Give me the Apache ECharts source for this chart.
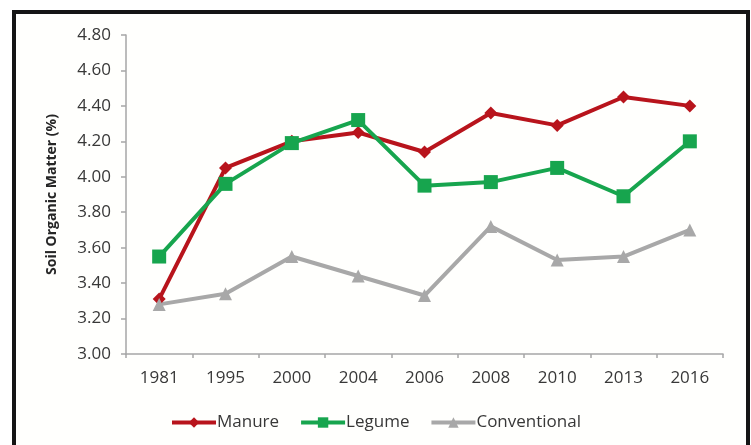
<!DOCTYPE html>
<html>
<head>
<meta charset="utf-8">
<script src="https://cdn.jsdelivr.net/npm/echarts@6/dist/echarts.min.js"></script>
<style>
  html, body { margin: 0; padding: 0; background: #ffffff; overflow: hidden; }
  #frame {
    position: absolute; left: 12px; top: 10px; width: 738px; height: 470px;
    box-sizing: border-box; border: 4px solid #151515; background: #fffffd;
  }
  #chart { position: absolute; left: 0; top: 0; width: 751px; height: 445px; }
</style>
</head>
<body>
<div id="frame"></div>
<div id="chart"></div>
<script>
// Sampling years and soil organic matter (%) for each cropping system
const years = ['1981', '1995', '2000', '2004', '2006', '2008', '2010', '2013', '2016'];
const manure = [3.31, 4.05, 4.20, 4.25, 4.14, 4.36, 4.29, 4.45, 4.40];
const legume = [3.55, 3.96, 4.19, 4.32, 3.95, 3.97, 4.05, 3.89, 4.20];
const conventional = [3.28, 3.34, 3.55, 3.44, 3.33, 3.72, 3.53, 3.55, 3.70];
const seriesNames = ['Manure', 'Legume', 'Conventional'];
const yTicks = { min: 3.0, max: 4.8, step: 0.2 };

const FONT = '"Open Sans", "DejaVu Sans", sans-serif';
const colors = ['#B8141C', '#17A54E', '#A8A8A8'];

const chart = echarts.init(document.getElementById('chart'), null, { renderer: 'canvas' });

function lineSeries(name, data, color, symbol, size) {
  return {
    name: name,
    type: 'line',
    data: data,
    symbol: symbol,
    symbolSize: size,
    showAllSymbol: true,
    lineStyle: { color: color, width: 4 },
    itemStyle: { color: color, borderWidth: 0 },
    emphasis: { disabled: true },
    z: 3
  };
}

chart.setOption({
  animation: false,
  backgroundColor: 'transparent',
  grid: { left: 126, right: 28, top: 35, bottom: 91, containLabel: false },
  legend: {
    bottom: 9,
    left: 'center',
    data: seriesNames,
    itemWidth: 44,
    itemHeight: 13,
    itemGap: 20,
    lineStyle: { width: 4 },
    textStyle: { fontFamily: FONT, fontSize: 17, color: '#383838', padding: [0, 0, 0, -4] },
    selectedMode: false
  },
  xAxis: {
    type: 'category',
    data: years,
    boundaryGap: true,
    axisLine: { lineStyle: { color: '#A6A6A6', width: 1.5 } },
    axisTick: { show: true, length: 4, lineStyle: { color: '#A6A6A6', width: 1.5 } },
    axisLabel: { fontFamily: FONT, fontSize: 17, color: '#383838', margin: 16 }
  },
  yAxis: {
    type: 'value',
    min: yTicks.min,
    max: yTicks.max,
    interval: yTicks.step,
    name: 'Soil Organic Matter (%)',
    nameLocation: 'middle',
    nameGap: 67,
    nameTextStyle: { fontFamily: FONT, fontSize: 14, fontWeight: 'bold', color: '#262626' },
    axisLine: { show: true, lineStyle: { color: '#A6A6A6', width: 1.5 } },
    axisTick: { show: true, length: 5, lineStyle: { color: '#A6A6A6', width: 1.5 } },
    splitLine: { show: false },
    axisLabel: {
      fontFamily: FONT, fontSize: 17, color: '#383838', margin: 15,
      formatter: function (v) { return v.toFixed(2); }
    }
  },
  series: [
    lineSeries(seriesNames[0], manure, colors[0], 'diamond', 13),
    lineSeries(seriesNames[1], legume, colors[1], 'rect', 14),
    lineSeries(seriesNames[2], conventional, colors[2], 'triangle', 13)
  ]
});
</script>
</body>
</html>
